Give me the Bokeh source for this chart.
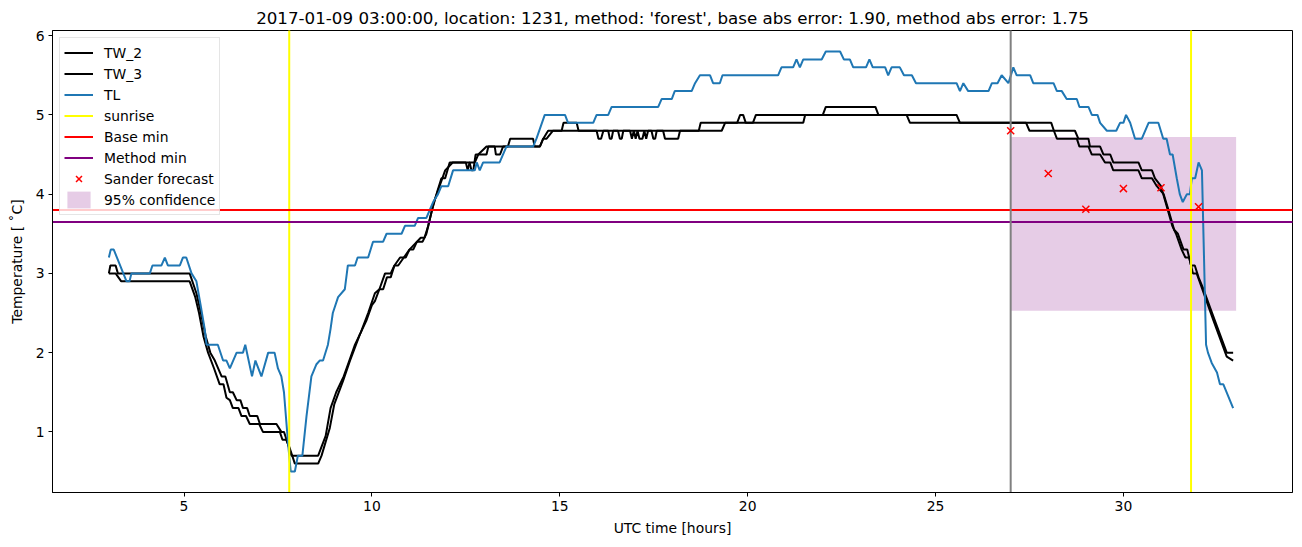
from bokeh.plotting import figure
from bokeh.models import Range1d, Legend, LegendItem, SingleIntervalTicker
from bokeh.embed import file_html
from bokeh.resources import INLINE

TITLE = "2017-01-09 03:00:00, location: 1231, method: 'forest', base abs error: 1.90, method abs error: 1.75"

# ---- data ----
tl_hours = [3.0, 3.05, 3.13, 3.47, 3.55, 3.6, 4.09, 4.16, 4.4, 4.49, 4.57, 4.89, 4.97, 5.06, 5.2, 5.33,
            5.46, 5.55, 5.6, 5.9, 6.04, 6.13, 6.22, 6.4, 6.57, 6.63, 6.81, 6.9, 7.06, 7.24, 7.41, 7.5,
            7.59, 7.66, 7.77, 7.84, 7.95, 8.03, 8.15, 8.26, 8.39, 8.52, 8.61, 8.7, 8.83, 8.9, 8.96, 9.1,
            9.28, 9.36, 9.55, 9.62, 9.9, 10.03, 10.3, 10.39, 10.79, 10.88, 11.14, 11.23, 11.45, 11.54,
            11.63, 11.76, 11.85, 12.03, 12.16, 12.74, 12.79, 12.87, 12.96, 13.4, 13.58, 14.29, 14.38,
            14.6, 15.14, 15.22, 15.89, 15.98, 16.29, 16.38, 17.62, 17.71, 17.98, 18.06, 18.51, 18.6,
            18.73, 19.0, 19.08, 19.26, 19.33, 20.81, 20.9, 21.21, 21.3, 21.39, 21.48, 21.97, 22.08,
            22.46, 22.56, 22.72, 22.81, 23.15, 23.24, 23.33, 23.66, 23.74, 23.83, 24.05, 24.16, 24.37,
            24.48, 25.56, 25.65, 25.74, 25.87, 26.41, 26.5, 26.65, 26.76, 26.94, 27.07, 27.16, 27.52,
            27.6, 28.14, 28.23, 28.36, 28.49, 28.76, 28.83, 29.07, 29.16, 29.31, 29.38, 29.56, 29.81,
            29.91, 30.0, 30.07, 30.18, 30.31, 30.49, 30.67, 30.93, 31.06, 31.15, 31.24, 31.31, 31.42,
            31.5, 31.58, 31.69, 31.77, 31.82, 31.91, 32.0, 32.09, 32.2, 32.25, 32.35, 32.49, 32.57,
            32.66, 32.92]
tl_temp = [3.2, 3.3, 3.3, 2.9, 2.9, 3.0, 3.0, 3.1, 3.1, 3.2, 3.1, 3.1, 3.2, 3.2, 3.0, 2.9,
           2.55, 2.3, 2.1, 2.1, 1.9, 1.9, 1.8, 2.0, 2.0, 2.1, 1.7, 1.9, 1.7, 2.0, 2.0, 1.8,
           1.7, 1.5, 0.85, 0.5, 0.5, 0.7, 0.7, 1.2, 1.7, 1.85, 1.9, 1.9, 2.1, 2.3, 2.5, 2.7,
           2.8, 3.1, 3.1, 3.2, 3.2, 3.4, 3.4, 3.5, 3.5, 3.6, 3.6, 3.7, 3.7, 3.8,
           3.9, 4.0, 4.1, 4.1, 4.3, 4.3, 4.4, 4.3, 4.4, 4.4, 4.6, 4.6, 4.7,
           5.0, 5.0, 4.9, 4.9, 5.0, 5.0, 5.1, 5.1, 5.2, 5.2, 5.3, 5.3, 5.4,
           5.5, 5.5, 5.4, 5.4, 5.5, 5.5, 5.6, 5.6, 5.7, 5.6, 5.7, 5.7, 5.8,
           5.8, 5.7, 5.7, 5.6, 5.6, 5.7, 5.6, 5.6, 5.5, 5.6, 5.6, 5.5, 5.5,
           5.4, 5.4, 5.3, 5.4, 5.3, 5.3, 5.4, 5.4, 5.5, 5.4, 5.6, 5.5, 5.5,
           5.4, 5.4, 5.3, 5.3, 5.2, 5.2, 5.1, 5.1, 5.0, 5.0, 4.9, 4.8, 4.8,
           4.9, 4.9, 5.0, 4.9, 4.7, 4.7, 4.9, 4.9, 4.7, 4.7, 4.5, 4.5, 4.2,
           4.0, 3.9, 4.0, 4.0, 4.2, 4.2, 4.4, 4.3, 2.1, 2.0, 1.87, 1.75, 1.6,
           1.6, 1.3]

tw2_hours = [3.0, 3.04, 3.18, 3.24, 5.15, 5.33, 5.45, 5.58, 5.7, 5.82, 6.0, 6.1, 6.22, 6.3, 6.4, 6.5,
             6.57, 6.68, 6.75, 6.95, 7.02, 7.46, 7.59, 7.66, 7.73, 7.86, 8.57, 8.77, 8.9, 9.05, 9.25,
             9.4, 9.55, 9.7, 9.9, 10.08, 10.2, 10.35, 10.5, 10.6, 10.75, 10.9, 11.0, 11.1, 11.2, 11.35,
             11.45, 11.5, 11.6, 11.75, 11.85, 11.95, 12.07, 12.6, 12.65, 12.7, 12.76, 13.05, 13.1,
             13.62, 13.68, 14.29, 14.33, 14.47, 14.56, 14.69, 15.05, 15.1, 15.45, 15.5, 18.7, 18.75,
             19.72, 19.8, 19.88, 19.95, 20.14, 20.22, 22.0, 22.08, 23.4, 23.48, 25.56, 25.65, 28.08,
             28.15, 28.23, 28.76, 28.83, 29.07, 29.16, 29.38, 29.51, 29.65, 29.73, 30.4, 30.49, 30.76,
             30.89, 31.07, 31.2, 31.35, 31.45, 31.6, 31.7, 31.8, 31.9, 32.0, 32.13, 32.4, 32.75, 32.92]
tw2_temp = [3.0, 3.1, 3.1, 3.0, 3.0, 2.75, 2.5, 2.2, 2.0, 1.9, 1.7, 1.7, 1.5, 1.5, 1.4, 1.4,
            1.3, 1.3, 1.2, 1.2, 1.1, 1.1, 1.0, 1.0, 0.9, 0.7, 0.7, 0.95, 1.3, 1.5, 1.7,
            1.9, 2.1, 2.25, 2.5, 2.75, 2.8, 3.0, 3.0, 3.1, 3.2, 3.2, 3.3, 3.3, 3.4, 3.4,
            3.5, 3.6, 3.8, 4.05, 4.2, 4.2, 4.4, 4.4, 4.3, 4.3, 4.5, 4.5, 4.6,
            4.6, 4.7, 4.7, 4.6, 4.6, 4.7, 4.8, 4.8, 4.9, 4.9, 4.8, 4.8, 4.9,
            4.9, 5.0, 5.0, 4.9, 4.9, 5.0, 5.0, 5.1, 5.1, 5.0, 5.0, 4.9, 4.9,
            4.8, 4.7, 4.7, 4.6, 4.6, 4.5, 4.5, 4.4, 4.4, 4.3, 4.3, 4.2, 4.2,
            4.1, 4.0, 3.8, 3.55, 3.5, 3.3, 3.3, 3.1, 3.1, 2.95, 2.8, 2.45, 2.0, 2.0]

tw3_hours = [3.0, 3.18, 3.33, 5.15, 5.3, 5.4, 5.52, 5.64, 5.8, 5.95, 6.05, 6.13, 6.22, 6.3, 6.45,
             6.53, 6.65, 6.75, 7.0, 7.1, 7.55, 7.62, 7.72, 7.81, 7.95, 8.57, 8.66, 8.88, 9.0, 9.23,
             9.41, 9.68, 9.85, 10.0, 10.08, 10.2, 10.3, 10.4, 10.5, 10.6, 10.7, 10.85, 11.0, 11.1,
             11.3, 11.4, 11.5, 11.65, 11.8, 11.95, 12.15, 12.5, 12.55, 12.6, 12.74, 12.83, 13.05,
             13.27, 13.3, 13.41, 13.49, 14.47, 14.56, 14.65, 14.82, 15.98, 16.03, 16.1, 16.16, 16.29,
             16.33, 16.38, 16.42, 16.55, 16.6, 16.65, 16.69, 16.87, 16.92, 16.97, 17.02, 17.07, 17.12,
             17.2, 17.25, 17.3, 17.35, 17.44, 17.49, 17.54, 17.58, 17.75, 17.8, 18.15, 18.2, 19.31,
             19.4, 21.48, 21.53, 24.23, 24.32, 27.41, 27.5, 28.71, 28.8, 29.07, 29.11, 29.38, 29.47,
             29.65, 29.73, 30.4, 30.49, 30.76, 30.84, 31.0, 31.15, 31.3, 31.4, 31.55, 31.65, 31.75,
             31.85, 31.95, 32.1, 32.4, 32.75, 32.92]
tw3_temp = [3.0, 3.0, 2.9, 2.9, 2.7, 2.5, 2.2, 2.0, 1.8, 1.6, 1.6, 1.43, 1.4, 1.3, 1.3,
            1.2, 1.2, 1.1, 1.1, 1.0, 1.0, 0.9, 0.9, 0.8, 0.6, 0.6, 0.7, 1.05, 1.35, 1.64,
            1.89, 2.23, 2.4, 2.6, 2.65, 2.8, 2.8, 2.95, 2.95, 3.1, 3.1, 3.2, 3.3, 3.35,
            3.45, 3.45, 3.6, 3.9, 4.1, 4.3, 4.4, 4.4, 4.3, 4.4, 4.4, 4.5, 4.6,
            4.6, 4.5, 4.5, 4.6, 4.6, 4.7, 4.7, 4.8, 4.8, 4.7, 4.7, 4.8, 4.8,
            4.7, 4.7, 4.8, 4.8, 4.7, 4.7, 4.8, 4.8, 4.7, 4.8, 4.7, 4.8, 4.7,
            4.7, 4.8, 4.7, 4.8, 4.8, 4.7, 4.7, 4.8, 4.8, 4.7, 4.7, 4.8, 4.8,
            4.9, 4.9, 5.0, 5.0, 4.9, 4.9, 4.8, 4.8, 4.7, 4.7, 4.6, 4.6, 4.5,
            4.5, 4.4, 4.4, 4.3, 4.3, 4.2, 4.1, 3.85, 3.6, 3.5, 3.3, 3.2, 3.2,
            3.0, 3.0, 2.8, 2.4, 1.95, 1.9]

sunrise_hours = [7.8, 31.8]
forecast_start = [27.0]
base_min = [3.8]
method_min = [3.65]

sander_hours = [27, 28, 29, 30, 31, 32]
sander_temp = [4.80, 4.26, 3.81, 4.07, 4.08, 3.84]

conf_hours = [27, 33]
conf_low = [2.53, 2.53]
conf_high = [4.72, 4.72]

# ---- figure ----
FONT = "DejaVu Sans"
p = figure(width=1302, height=547, output_backend="svg", toolbar_location=None,
           x_range=Range1d(1.5, 34.5), y_range=Range1d(0.235, 6.065),
           min_border_left=52, min_border_right=10, min_border_top=30, min_border_bottom=55,
           title=TITLE)
p.background_fill_color = "white"
p.border_fill_color = "white"
p.outline_line_color = "black"
p.outline_line_width = 1
p.outline_line_alpha = 1
p.grid.visible = False

p.title.align = "center"
p.title.text_font = FONT
p.title.text_font_size = "16.7px"
p.title.text_font_style = "normal"
p.title.text_color = "black"
p.title.standoff = 6

for ax in (p.xaxis[0], p.yaxis[0]):
    ax.major_label_text_font = FONT
    ax.major_label_text_font_size = "13.9px"
    ax.major_label_text_color = "black"
    ax.axis_label_text_font = FONT
    ax.axis_label_text_font_size = "13.9px"
    ax.axis_label_text_font_style = "normal"
    ax.axis_label_text_color = "black"
    ax.major_tick_in = 0
    ax.major_tick_out = 4
    ax.minor_tick_in = 0
    ax.minor_tick_out = 0
    ax.major_label_standoff = 4
    ax.axis_line_color = "black"
    ax.major_tick_line_color = "black"

p.xaxis[0].ticker = SingleIntervalTicker(interval=5)
p.yaxis[0].ticker = SingleIntervalTicker(interval=1)
p.xaxis[0].axis_label = "UTC time [hours]"
p.yaxis[0].axis_label = "Temperature [ \u02daC]"
p.yaxis[0].axis_label_standoff = 8
p.xaxis[0].axis_label_standoff = 6

# band first (underneath)
band = p.varea(x=conf_hours, y1=conf_low, y2=conf_high, fill_color="purple", fill_alpha=0.2)

r_tw2 = p.line(tw2_hours, tw2_temp, line_color="black", line_width=2)
r_tw3 = p.line(tw3_hours, tw3_temp, line_color="black", line_width=2)
r_tl = p.line(tl_hours, tl_temp, line_color="#1f77b4", line_width=2)

r_sun = p.segment(x0=sunrise_hours, x1=sunrise_hours, y0=[-1] * len(sunrise_hours),
                  y1=[8] * len(sunrise_hours), line_color="yellow", line_width=2)
r_base = p.segment(x0=[0], x1=[40], y0=base_min, y1=base_min, line_color="red", line_width=2)
r_meth = p.segment(x0=[0], x1=[40], y0=method_min, y1=method_min, line_color="purple", line_width=2)
p.segment(x0=forecast_start, x1=forecast_start, y0=[-1], y1=[8], line_color="gray", line_width=2)

r_sander = p.scatter(sander_hours, sander_temp, marker="x", size=10, line_color="red", line_width=1.5)

legend = Legend(items=[
    LegendItem(label="TW_2", renderers=[r_tw2]),
    LegendItem(label="TW_3", renderers=[r_tw3]),
    LegendItem(label="TL", renderers=[r_tl]),
    LegendItem(label="sunrise", renderers=[r_sun]),
    LegendItem(label="Base min", renderers=[r_base]),
    LegendItem(label="Method min", renderers=[r_meth]),
    LegendItem(label="Sander forecast", renderers=[r_sander]),
    LegendItem(label="95% confidence", renderers=[band]),
])
legend.location = "top_left"
legend.margin = 7
legend.padding = 4
legend.spacing = 0
legend.label_height = 21
legend.glyph_height = 21
legend.glyph_width = 29
legend.label_standoff = 11
legend.label_text_font = FONT
legend.label_text_font_size = "13.9px"
legend.label_text_color = "black"
legend.border_line_color = "#cccccc"
legend.border_line_width = 1
legend.background_fill_color = "white"
legend.background_fill_alpha = 0.8
p.add_layout(legend)

open("out.html", "w").write(file_html(p, INLINE))
